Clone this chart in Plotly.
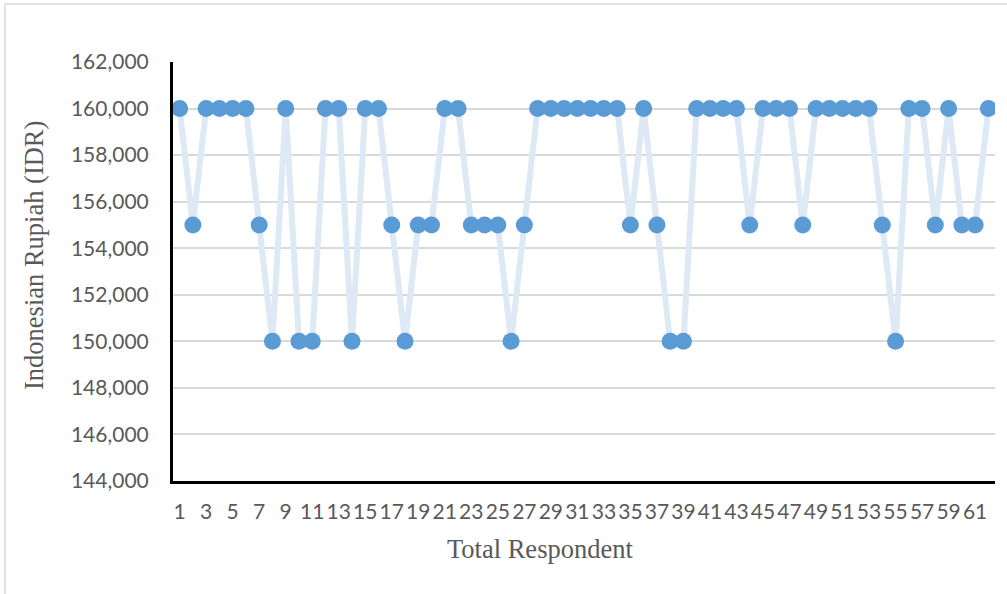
import plotly.graph_objects as go

# Respondent number and the price each one stated (IDR)
respondents = list(range(1, 63))
price_idr = [
    160000, 155000, 160000, 160000, 160000, 160000, 155000, 150000, 160000, 150000,
    150000, 160000, 160000, 150000, 160000, 160000, 155000, 150000, 155000, 155000,
    160000, 160000, 155000, 155000, 155000, 150000, 155000, 160000, 160000, 160000,
    160000, 160000, 160000, 160000, 155000, 160000, 155000, 150000, 150000, 160000,
    160000, 160000, 160000, 155000, 160000, 160000, 160000, 155000, 160000, 160000,
    160000, 160000, 160000, 155000, 150000, 160000, 160000, 155000, 160000, 155000,
    155000, 160000,
]
x_tick_vals = list(range(1, 62, 2))
y_tick_vals = list(range(144000, 162001, 2000))

W, H = 1007, 594
L, R, T, B = 173, 12, 62, 113
pw, ph = W - L - R, H - T - B


def px_x(p):
    return (p - L) / pw


def px_y(p):
    return (H - B - p) / ph


fig = go.Figure()
fig.add_trace(go.Scatter(
    x=respondents, y=price_idr, mode="lines+markers",
    line=dict(color="#dde9f5", width=6),
    marker=dict(color="#5b9bd5", size=17, line=dict(width=0)),
    hoverinfo="x+y", showlegend=False,
))

tick_font = dict(family="Lato, Carlito, Calibri, sans-serif", size=21, color="#595959")
title_font = dict(family="Liberation Serif, Times New Roman, serif", size=26.5, color="#595959")

fig.update_layout(
    width=W, height=H,
    margin=dict(l=L, r=R, t=T, b=B),
    paper_bgcolor="white", plot_bgcolor="white",
    xaxis=dict(
        range=[0.5, 62.5], tickvals=x_tick_vals, ticktext=[str(v) for v in x_tick_vals],
        showgrid=False, zeroline=False, showline=True, linecolor="black", linewidth=3,
        ticks="", tickfont=tick_font, ticklabelstandoff=10, tickangle=0,
    ),
    yaxis=dict(
        range=[144000, 162000], tickvals=y_tick_vals, tickformat=",",
        showgrid=True, gridcolor="#d9d9d9", gridwidth=1.5, zeroline=False,
        showline=True, linecolor="black", linewidth=3,
        ticks="", tickfont=tick_font, ticklabelstandoff=17,
    ),
    shapes=[
        # outer chart frame (left and top edges)
        dict(type="line", xref="paper", yref="paper",
             x0=px_x(5), x1=px_x(5), y0=px_y(4), y1=px_y(600),
             line=dict(color="#d9d9d9", width=1.5)),
        dict(type="line", xref="paper", yref="paper",
             x0=px_x(5), x1=px_x(1010), y0=px_y(4), y1=px_y(4),
             line=dict(color="#d9d9d9", width=1.5)),
    ],
    annotations=[
        dict(text="Total Respondent", xref="paper", yref="paper",
             x=px_x(540), y=px_y(549), showarrow=False, font=title_font,
             xanchor="center", yanchor="middle"),
        dict(text="Indonesian Rupiah (IDR)", xref="paper", yref="paper",
             x=px_x(34), y=px_y(256), showarrow=False, font=title_font,
             textangle=-90, xanchor="center", yanchor="middle"),
    ],
)

fig.write_html("out.html")
